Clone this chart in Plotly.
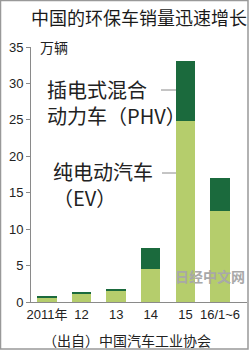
import plotly.graph_objects as go

categories = ["2011年", "12", "13", "14", "15", "16/1~6"]
ev_values = [0.5, 1.1, 1.5, 4.5, 24.8, 12.5]
phv_values = [0.3, 0.15, 0.3, 2.9, 8.3, 4.5]
y_ticks = [0, 5, 10, 15, 20, 25, 30, 35]

W, H = 250, 352
L, R, T, B = 31, 3, 47, 50
pw, ph = W - L - R, H - T - B

def px(x):
    return (x - L) / pw

def py(y):
    return (H - B - y) / ph

light = "#b5cd6c"
dark = "#1b6a3d"
cjk = "Noto Sans CJK SC"
num = "Liberation Sans, Noto Sans CJK SC"

xs = list(range(len(categories)))
fig = go.Figure()
fig.add_bar(x=xs, y=ev_values, marker=dict(color=light, line=dict(width=0)), name="EV")
fig.add_bar(x=xs, y=phv_values, marker=dict(color=dark, line=dict(width=0)), name="PHV")

fig.update_layout(
    template="none",
    width=W, height=H, autosize=False, barmode="stack", bargap=0.44, showlegend=False,
    margin=dict(l=L, r=R, t=T, b=B, pad=0),
    paper_bgcolor="white", plot_bgcolor="white",
    xaxis=dict(range=[-0.46, 5.78], tickvals=xs, ticktext=categories, automargin=False,
               showgrid=False, zeroline=False, showline=True, linecolor="#8a8a8a",
               linewidth=1, ticks="", tickfont=dict(family=num, size=13, color="#222")),
    yaxis=dict(range=[0, 35], tickvals=y_ticks, showgrid=False, zeroline=False, automargin=False,
               showline=True, linecolor="#8a8a8a", linewidth=1, ticks="outside",
               ticklen=4, tickcolor="#8a8a8a",
               tickfont=dict(family=num, size=13, color="#222")),
    font=dict(family=cjk, color="#222"),
)

anns = [
    dict(text="中国的环保车销量迅速增长", x=0.5, xref="paper", y=py(17), font=dict(size=18, family=cjk, color="#1a1a1a"), xanchor="center"),
    dict(text="万辆", x=px(38), y=py(47), font=dict(size=14, family=cjk), xanchor="left"),
    dict(text="插电式混合<br>动力车（PHV）", x=px(45), y=py(102), font=dict(size=20, family=cjk), xanchor="left", align="left"),
    dict(text="纯电动汽车<br>（EV）", x=px(51), y=py(184), font=dict(size=20, family=cjk), xanchor="left", align="left"),
    dict(text="（出自）中国汽车工业协会", x=px(127), y=py(340), font=dict(size=14, family=cjk), xanchor="center"),
    dict(text="<b>日经中文网</b>", x=px(210), y=py(276), font=dict(size=14, family=cjk, color="#a8a8a8"), xanchor="center"),
]
for a in anns:
    a.setdefault("xref", "paper")
    a.update(yref="paper", showarrow=False, yanchor="middle")
    fig.add_annotation(**a)

# leader lines
fig.add_shape(type="line", xref="paper", yref="paper", x0=px(161), x1=px(176), y0=py(90), y1=py(90), line=dict(color="#8a8a8a", width=1))
fig.add_shape(type="line", xref="paper", yref="paper", x0=px(162), x1=px(176), y0=py(173), y1=py(173), line=dict(color="#8a8a8a", width=1))
# frame
fig.add_shape(type="rect", xref="paper", yref="paper", x0=px(0.5), x1=px(248), y0=py(0.5), y1=py(349), line=dict(color="#999", width=1.5))

fig.write_html("out.html")
